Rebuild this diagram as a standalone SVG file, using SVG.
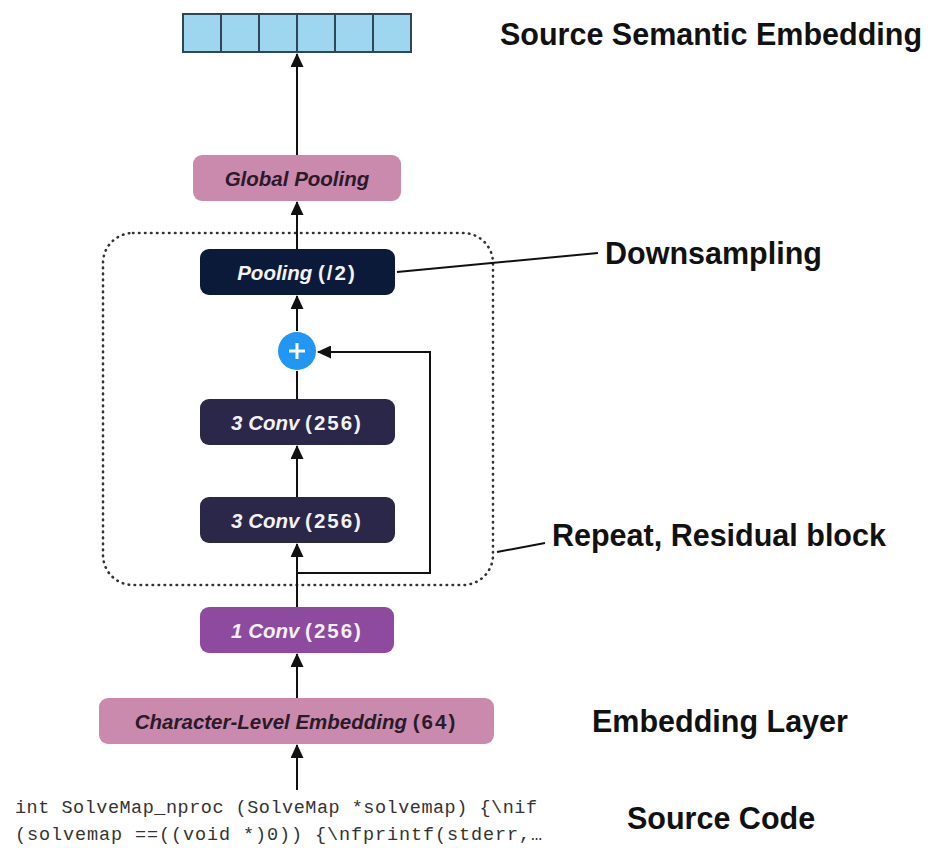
<svg xmlns="http://www.w3.org/2000/svg" width="933" height="848" viewBox="0 0 933 848">
<style>
.lbl{font-family:"Liberation Sans",Arial,sans-serif;font-weight:bold;font-size:30.5px;fill:#111;}
.bt{font-family:"Liberation Sans",Arial,sans-serif;font-weight:bold;font-style:italic;font-size:20.5px;text-anchor:middle;}
.num{font-style:normal;letter-spacing:2px;}
.light{fill:#f2f2f6;}
.dark{fill:#2a1a2a;}
.conn{stroke:#111;stroke-width:2;fill:none;}
.code{font-family:"Liberation Mono","DejaVu Sans Mono",monospace;font-size:18.5px;fill:#333;}
.cell{fill:#9fd6ef;stroke:#2e4656;stroke-width:2;}
</style>
<defs>
<marker id="ah" markerUnits="userSpaceOnUse" markerWidth="14" markerHeight="13" viewBox="0 0 14 13" refX="13" refY="6.5" orient="auto">
<path d="M0,0 L14,6.5 L0,13 z" fill="#111"/>
</marker>
</defs>
<rect width="933" height="848" fill="#fff"/>

<g id="container">
<rect x="103" y="233" width="390" height="352" rx="30" ry="30" fill="none" stroke="#333" stroke-width="2.6" stroke-dasharray="0.5 5.5" stroke-linecap="round"/>
</g>

<g id="connectors">
<line class="conn" x1="297" y1="790" x2="297" y2="745" marker-end="url(#ah)"/>
<line class="conn" x1="297" y1="698" x2="297" y2="654" marker-end="url(#ah)"/>
<line class="conn" x1="297" y1="607" x2="297" y2="544" marker-end="url(#ah)"/>
<polyline class="conn" points="297,573 430,573 430,352 318,352" marker-end="url(#ah)"/>
<line class="conn" x1="297" y1="497" x2="297" y2="446" marker-end="url(#ah)"/>
<line class="conn" x1="297" y1="399" x2="297" y2="371"/>
<line class="conn" x1="297" y1="331" x2="297" y2="296" marker-end="url(#ah)"/>
<line class="conn" x1="297" y1="249" x2="297" y2="202" marker-end="url(#ah)"/>
<line class="conn" x1="297" y1="155" x2="297" y2="54" marker-end="url(#ah)"/>
<line class="conn" x1="397" y1="272" x2="598" y2="253"/>
<line class="conn" x1="497" y1="552" x2="545" y2="543"/>
</g>

<g id="semantic-embedding">
<rect class="cell" x="183" y="14" width="38" height="38"/>
<rect class="cell" x="221" y="14" width="38" height="38"/>
<rect class="cell" x="259" y="14" width="38" height="38"/>
<rect class="cell" x="297" y="14" width="38" height="38"/>
<rect class="cell" x="335" y="14" width="38" height="38"/>
<rect class="cell" x="373" y="14" width="38" height="38"/>
</g>

<g id="global-pooling">
<rect x="193" y="155" width="208" height="46" rx="9" fill="#c98aad"/>
<text class="bt dark" x="297" y="186">Global Pooling</text>
</g>

<g id="pooling">
<rect x="200" y="249" width="195" height="46" rx="9" fill="#0c1a3a"/>
<text class="bt light" x="297" y="280">Pooling <tspan class="num">(/2)</tspan></text>
</g>

<g id="add">
<circle cx="297" cy="351" r="19" fill="#2196f3"/>
<path d="M289,351 H305 M297,343 V359" stroke="#fff" stroke-width="3"/>
</g>

<g id="conv3-upper">
<rect x="200" y="399" width="195" height="46" rx="9" fill="#2a2748"/>
<text class="bt light" x="297" y="430">3 Conv <tspan class="num">(256)</tspan></text>
</g>

<g id="conv3-lower">
<rect x="200" y="497" width="195" height="46" rx="9" fill="#2a2748"/>
<text class="bt light" x="297" y="528">3 Conv <tspan class="num">(256)</tspan></text>
</g>

<g id="conv1">
<rect x="200" y="607" width="194" height="46" rx="9" fill="#8e4a9e"/>
<text class="bt light" x="297" y="638">1 Conv <tspan class="num">(256)</tspan></text>
</g>

<g id="char-embedding">
<rect x="99" y="698" width="395" height="46" rx="9" fill="#c98aad"/>
<text class="bt dark" x="296" y="729">Character-Level Embedding <tspan class="num">(64)</tspan></text>
</g>

<g id="source-code">
<text class="code" x="15" y="813" textLength="522" lengthAdjust="spacing">int SolveMap_nproc (SolveMap *solvemap) {\nif</text>
<text class="code" x="15" y="840" textLength="527" lengthAdjust="spacing">(solvemap ==((void *)0)) {\nfprintf(stderr,…</text>
</g>

<g id="labels">
<text class="lbl" x="500" y="45">Source Semantic Embedding</text>
<text class="lbl" x="605" y="264">Downsampling</text>
<text class="lbl" x="552" y="546">Repeat, Residual block</text>
<text class="lbl" x="592" y="732">Embedding Layer</text>
<text class="lbl" x="627" y="829">Source Code</text>
</g>
</svg>
